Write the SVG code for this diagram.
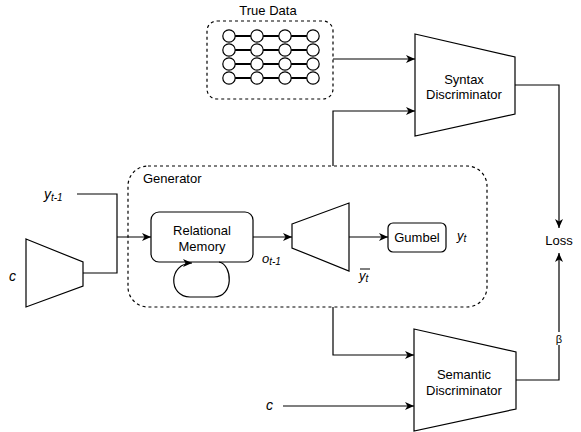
<svg xmlns="http://www.w3.org/2000/svg" width="581" height="432" viewBox="0 0 581 432">
<defs>
<style>
.t{font-family:"Liberation Sans",Arial,sans-serif;font-size:13px;fill:#000;text-anchor:middle}
.i{font-family:"Liberation Sans",Arial,sans-serif;font-style:italic;fill:#000}
.s{fill:#fff;stroke:#000;stroke-width:1.2}
.d{fill:none;stroke:#000;stroke-width:1.2;stroke-dasharray:3 3}
.c{fill:none;stroke:#000;stroke-width:1.2}
.a{marker-end:url(#ah)}
.row{stroke:#000;stroke-width:2}
.dot{fill:#fff;stroke:#000;stroke-width:1.2}
</style>
<marker id="ah" markerWidth="10" markerHeight="8" refX="9" refY="4" orient="auto" markerUnits="userSpaceOnUse">
<path d="M0,0 L9,4 L0,8 L2.5,4 Z" fill="#000"/>
</marker>
</defs>
<rect width="581" height="432" fill="#fff"/>

<g id="true-data">
<rect class="d" x="207" y="21" width="126" height="78" rx="10"/>
<text class="t" x="268" y="15">True Data</text>
<g id="data-rows">
<line class="row" x1="229" y1="36" x2="313" y2="36"/>
<line class="row" x1="229" y1="50" x2="313" y2="50"/>
<line class="row" x1="229" y1="64" x2="313" y2="64"/>
<line class="row" x1="229" y1="78" x2="313" y2="78"/>
<g>
<circle class="dot" cx="229" cy="36" r="6.2"/><circle class="dot" cx="257" cy="36" r="6.2"/><circle class="dot" cx="285" cy="36" r="6.2"/><circle class="dot" cx="313" cy="36" r="6.2"/>
<circle class="dot" cx="229" cy="50" r="6.2"/><circle class="dot" cx="257" cy="50" r="6.2"/><circle class="dot" cx="285" cy="50" r="6.2"/><circle class="dot" cx="313" cy="50" r="6.2"/>
<circle class="dot" cx="229" cy="64" r="6.2"/><circle class="dot" cx="257" cy="64" r="6.2"/><circle class="dot" cx="285" cy="64" r="6.2"/><circle class="dot" cx="313" cy="64" r="6.2"/>
<circle class="dot" cx="229" cy="78" r="6.2"/><circle class="dot" cx="257" cy="78" r="6.2"/><circle class="dot" cx="285" cy="78" r="6.2"/><circle class="dot" cx="313" cy="78" r="6.2"/>
</g>
</g>
</g>

<g id="syntax-discriminator">
<polygon class="s" points="415,34 515,57 515,114 415,136"/>
<text class="t" x="464" y="84">Syntax</text>
<text class="t" x="464" y="99">Discriminator</text>
</g>

<g id="semantic-discriminator">
<polygon class="s" points="414,329 516,352 516,409 414,431"/>
<text class="t" x="464" y="379">Semantic</text>
<text class="t" x="464" y="395">Discriminator</text>
</g>

<g id="generator">
<rect class="d" x="128" y="166" width="359" height="141" rx="20"/>
<text class="t" x="143" y="183" style="text-anchor:start">Generator</text>
</g>

<g id="relational-memory">
<rect class="s" x="151" y="212" width="102" height="50" rx="8"/>
<text class="t" x="202" y="235">Relational</text>
<text class="t" x="202" y="251">Memory</text>
</g>

<g id="output-layer">
<polygon class="s" points="292,224 349,203 349,271 292,248"/>
</g>

<g id="gumbel">
<rect class="s" x="388" y="223" width="58" height="29" rx="5"/>
<text class="t" x="417" y="242">Gumbel</text>
</g>

<g id="encoder-c">
<polygon class="s" points="26,239 83,262 83,286 26,307"/>
</g>

<g id="loss">
<text class="t" x="559" y="245">Loss</text>
</g>

<g id="labels">
<text class="i" x="44" y="199" font-size="14">y<tspan font-size="10" dy="2">t-1</tspan></text>
<text class="i" x="9" y="281" font-size="14">c</text>
<text class="i" x="266" y="410" font-size="14">c</text>
<text class="i" x="262" y="263" font-size="13">o<tspan font-size="10" dy="2">t-1</tspan></text>
<text class="i" x="457" y="240" font-size="13">y<tspan font-size="10" dy="2">t</tspan></text>
<text class="i" x="359" y="280" font-size="13">y<tspan font-size="10" dy="2">t</tspan></text>
<line x1="360" y1="269" x2="370" y2="269" stroke="#000" stroke-width="1"/>
</g>

<g id="connectors">
<path class="c a" d="M333 59 H415"/>
<path class="c a" d="M333 166 V111 H415"/>
<path class="c a" d="M515 85 H559 V228"/>
<path class="c a" d="M516 380 H559 V253"/>
<path class="c a" d="M333 307 V355 H414"/>
<path class="c a" d="M283 406 H414"/>
<path class="c" d="M77 194 H117 V273 H83"/>
<path class="c a" d="M117 237 H151"/>
<path class="c a" d="M253 237 H292"/>
<path class="c a" d="M349 237 H388"/>
<path class="c a" d="M219 262 C233 265 234 297 214 297 L190 297 C168 297 168 263 192 263"/>
<rect x="553" y="332" width="12" height="13" fill="#fff"/>
<text class="t" x="559" y="343" font-size="11" style="font-size:11px">β</text>
</g>
</svg>
